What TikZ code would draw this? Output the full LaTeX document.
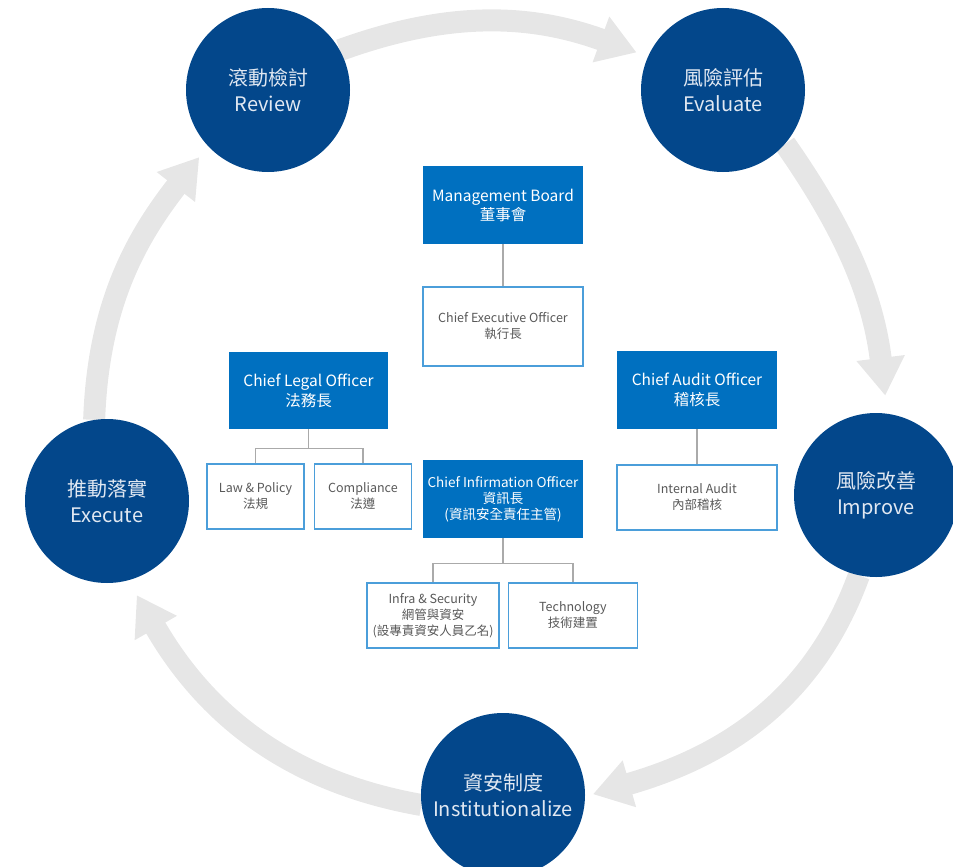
\documentclass[tikz,border=0pt]{standalone}
\usepackage{fontspec}
\setmainfont{Noto Sans CJK TC}
\usetikzlibrary{positioning,arrows.meta}
\definecolor{phaseblue}{RGB}{3,71,139}
\definecolor{phasetext}{RGB}{225,232,242}
\definecolor{boxblue}{RGB}{0,112,192}
\definecolor{lineblue}{RGB}{75,158,218}
\definecolor{textgray}{RGB}{89,89,89}
\definecolor{linkgray}{RGB}{170,170,170}
\definecolor{cyclegray}{RGB}{230,230,230}
\tikzstyle{phase}=[circle,fill=phaseblue,text=phasetext,minimum size=164pt,
inner sep=0pt,align=center,font=\fontsize{20}{26}\selectfont]
\tikzstyle{bluebox}=[rectangle,fill=boxblue,text=white,minimum width=160pt,
minimum height=78pt,inner sep=0pt,align=center,font=\fontsize{15.5}{19}\selectfont]
\tikzstyle{whitebox}=[rectangle,draw=lineblue,line width=1.4pt,fill=white,text=textgray,
inner sep=0pt,align=center,font=\fontsize{12.5}{16}\selectfont]
\tikzstyle{cycle}=[draw=cyclegray,line width=22pt,-{Triangle[width=46pt,length=38pt]}]
\tikzstyle{link}=[draw=linkgray,line width=1.3pt]
\pgfdeclarelayer{bg}
\pgfsetlayers{bg,main}

\begin{document}
\begin{tikzpicture}[x=1pt,y=1pt]
            \useasboundingbox (0,0) rectangle (953,-867);

            % CYCLE PART

            \node[phase] (review) at (268,-90) {滾動檢討\\Review};
            \node[phase] (evaluate) at (723,-90) {風險評估\\Evaluate};
            \node[phase] (improve) at (876,-495) {風險改善\\Improve};
            \node[phase] (inst) at (503,-795) {資安制度\\Institutionalize};
            \node[phase] (execute) at (107,-501) {推動落實\\Execute};

            \begin{pgfonlayer}{bg}
            \draw[cycle,shorten >=12pt] (review.29) to[out=20,in=160] (evaluate.156);
            \draw[cycle,shorten >=18pt] (evaluate.-41) to[out=-55,in=97] (improve.82);
            \draw[cycle,shorten >=8pt] (improve.-102) to[out=-110,in=16] (inst.-1);
            \draw[cycle,shorten >=17pt] (inst.-173) to[out=170,in=-60] (execute.-75);
            \draw[cycle,shorten >=14pt] (execute.99) to[out=88,in=-128] (review.-137);
            \end{pgfonlayer}

            % BOARD AND CEO PART

            \node[bluebox] (mgmt) at (503,-205) {Management Board\\董事會};
            \node[whitebox,minimum width=160pt,minimum height=79pt,below=42pt of mgmt] (ceo) {Chief Executive Officer\\執行長};

            \draw[link] (mgmt) -- (ceo);

            % LEGAL PART

            \node[bluebox,minimum width=159pt,minimum height=77pt,
                font=\fontsize{15.5}{20}\selectfont] (legal) at (308.5,-390.5) {Chief Legal Officer\\法務長};
            \node[whitebox,minimum width=97pt,minimum height=65pt] (law) at (255.5,-496.5) {Law \& Policy\\法規};
            \node[whitebox,minimum width=97pt,minimum height=65pt,right=9pt of law] (comp) {Compliance\\法遵};

            \draw[link] (legal.south) -- ++(0,-19) -| (law.north);
            \draw[link] (legal.south) -- ++(0,-19) -| (comp.north);

            % AUDIT PART

            \node[bluebox,font=\fontsize{15.5}{20}\selectfont] (audit) at (697,-390) {Chief Audit Officer\\稽核長};
            \node[whitebox,minimum width=160pt,minimum height=65pt,below=35pt of audit] (intaudit) {Internal Audit\\內部稽核};

            \draw[link] (audit) -- (intaudit);

            % INFORMATION PART

            \node[bluebox,font=\fontsize{13.5}{16}\selectfont] (cio) at (503,-499) {Chief Infirmation Officer\\資訊長\\(資訊安全責任主管)};
            \node[whitebox,minimum width=132pt,minimum height=65pt] (infra) at (433,-615.5) {Infra \& Security\\網管與資安\\(設專責資安人員乙名)};
            \node[whitebox,minimum width=129pt,minimum height=65pt,right=8pt of infra] (tech) {Technology\\技術建置};

            \draw[link] (cio.south) -- ++(0,-25) -| (infra.north);
            \draw[link] (cio.south) -- ++(0,-25) -| (tech.north);

\end{tikzpicture}
\end{document}
